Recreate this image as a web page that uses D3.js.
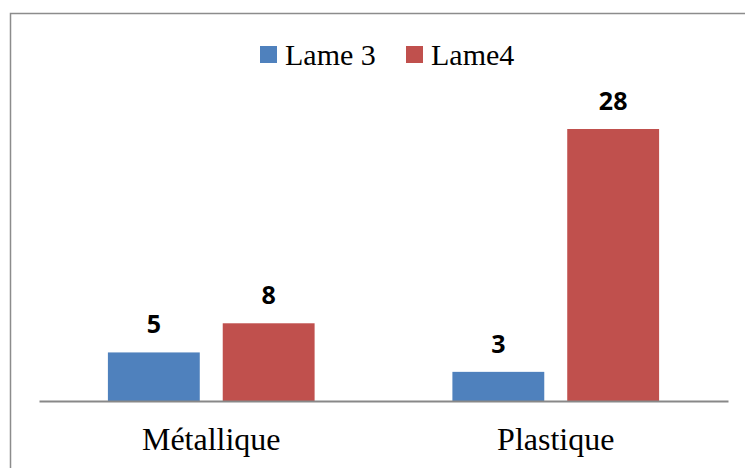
<!DOCTYPE html>
<html>
<head>
<meta charset="utf-8">
<script src="https://cdn.jsdelivr.net/npm/d3@7"></script>
<style>
  html, body { margin: 0; padding: 0; background: #fff; }
  svg { display: block; }
  .val { font-family: "Open Sans", "Liberation Sans", sans-serif; font-weight: 700; }
</style>
</head>
<body>
<svg id="chart" width="745" height="468"></svg>
<script>
const categories = ["Métallique", "Plastique"];
const seriesNames = ["Lame 3", "Lame4"];
const lame3 = [5, 3];
const lame4 = [8, 28];
const colors = ["#4F81BD", "#C0504D"];

const svg = d3.select("#chart");

svg.append("rect")
  .attr("x", 10.5).attr("y", 13.5)
  .attr("width", 800).attr("height", 500)
  .attr("fill", "none").attr("stroke", "#8c8c8c").attr("stroke-width", 1.5);

const plotLeft = 39, plotRight = 728, baseY = 401;
const x = d3.scaleBand().domain(categories).range([plotLeft, plotRight]).padding(0);
const groupW = x.bandwidth() * 0.6;
const xs = d3.scaleBand().domain(seriesNames)
  .range([(x.bandwidth() - groupW) / 2, (x.bandwidth() + groupW) / 2])
  .paddingInner(0.2).paddingOuter(0);
const y = d3.scaleLinear().domain([0, 28]).range([baseY, 129]);

const data = categories.map((c, i) => ({
  cat: c,
  vals: [{s: seriesNames[0], v: lame3[i], c: colors[0]}, {s: seriesNames[1], v: lame4[i], c: colors[1]}]
}));

const groups = svg.append("g").selectAll("g.grp").data(data).enter().append("g")
  .attr("transform", d => `translate(${x(d.cat)},0)`);

groups.selectAll("rect").data(d => d.vals).enter().append("rect")
  .attr("x", d => xs(d.s))
  .attr("y", d => y(d.v))
  .attr("width", xs.bandwidth())
  .attr("height", d => baseY - y(d.v))
  .attr("fill", d => d.c);

groups.selectAll("text.val").data(d => d.vals).enter().append("text")
  .attr("class", "val")
  .attr("x", d => xs(d.s) + xs.bandwidth() / 2)
  .attr("y", d => y(d.v) - 19)
  .attr("text-anchor", "middle")
  .attr("font-size", 25)
  .attr("fill", "#000")
  .text(d => d.v);

const axis = d3.axisBottom(x).tickSize(0).tickPadding(0);
const ax = svg.append("g").attr("transform", `translate(0,${baseY})`).call(axis);
ax.select(".domain").attr("stroke", "#888").attr("stroke-width", 2);
ax.selectAll(".tick text")
  .attr("font-family", "Liberation Serif")
  .attr("font-size", 32)
  .attr("fill", "#000")
  .attr("dy", 0)
  .attr("y", 49);

const legendItems = [
  {name: seriesNames[0], color: colors[0], x: 260},
  {name: seriesNames[1], color: colors[1], x: 406}
];
const li = svg.append("g").selectAll("g").data(legendItems).enter().append("g")
  .attr("transform", d => `translate(${d.x},46)`);
li.append("rect").attr("width", 17).attr("height", 17).attr("fill", d => d.color);
li.append("text")
  .attr("x", 25).attr("y", 19)
  .attr("font-family", "Liberation Serif")
  .attr("font-size", 30)
  .attr("fill", "#000")
  .text(d => d.name);
</script>
</body>
</html>
